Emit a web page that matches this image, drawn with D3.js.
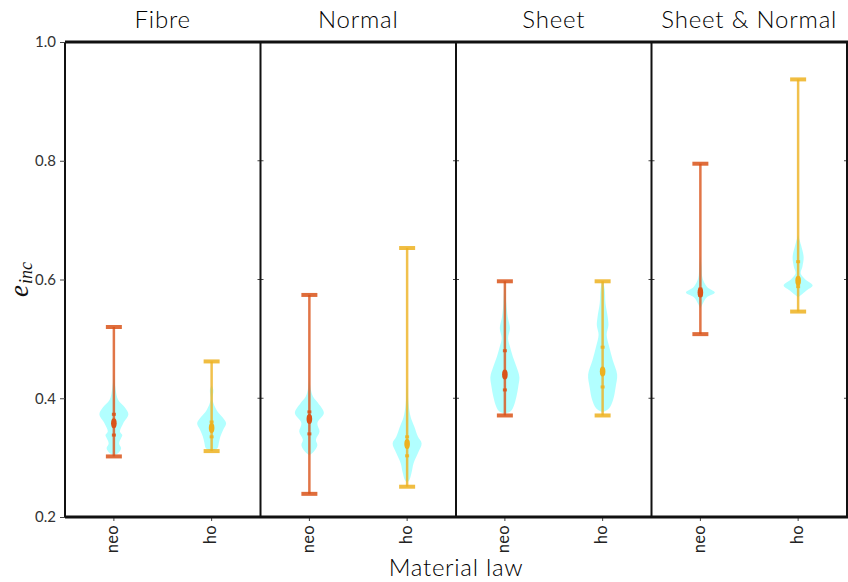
<!DOCTYPE html>
<html><head><meta charset="utf-8">
<script src="https://cdn.jsdelivr.net/npm/d3@7"></script>
<style>body{margin:0;background:#fff;} svg{display:block;font-family:Lato,"Noto Sans",sans-serif;}</style>
</head><body>
<svg id="c" width="848" height="582"></svg>
<script>
const panels = ["Fibre", "Normal", "Sheet", "Sheet & Normal"];
const laws = ["neo", "ho"];
const yTicks = [0.2, 0.4, 0.6, 0.8, 1.0];
const lawColors = ["#D95319", "#EDB120"];
// per panel: [neo, ho]
const whiskerLow  = [[0.302, 0.311], [0.239, 0.251], [0.371, 0.371], [0.508, 0.546]];
const whiskerHigh = [[0.520, 0.462], [0.574, 0.653], [0.597, 0.597], [0.795, 0.937]];
const medians     = [[0.358, 0.350], [0.365, 0.323], [0.440, 0.445], [0.578, 0.598]];
const q1          = [[0.338, 0.335], [0.340, 0.303], [0.414, 0.419], [0.573, 0.588]];
const q3          = [[0.373, 0.360], [0.377, 0.335], [0.480, 0.486], [0.584, 0.630]];
// violin density profiles [value, relative density]
const fibreNeo = [[0.304,0],[0.308,0.3],[0.316,0.5],[0.324,0.36],[0.333,0.5],[0.338,0.58],[0.344,0.42],[0.358,0.65],[0.373,1.0],[0.385,0.75],[0.397,0.3],[0.419,0.1],[0.443,0]];
const fibreHo = [[0.311,0],[0.316,0.4],[0.325,0.5],[0.335,0.6],[0.347,0.8],[0.358,1.0],[0.368,0.75],[0.38,0.35],[0.397,0.07],[0.414,0.12],[0.422,0]];
const normalNeo = [[0.304,0],[0.31,0.3],[0.321,0.55],[0.33,0.45],[0.344,0.7],[0.358,0.55],[0.375,1.0],[0.392,0.6],[0.403,0.25],[0.419,0.07],[0.439,0]];
const normalHo = [[0.258,0],[0.262,0.15],[0.274,0.3],[0.291,0.45],[0.308,0.75],[0.324,1.0],[0.335,0.75],[0.352,0.5],[0.368,0.25],[0.39,0.1],[0.415,0.04],[0.436,0]];
const sheetNeo = [[0.374,0],[0.378,0.4],[0.386,0.6],[0.403,0.8],[0.419,0.92],[0.436,1.0],[0.453,0.8],[0.47,0.55],[0.487,0.35],[0.501,0.22],[0.518,0.35],[0.537,0.2],[0.56,0.1],[0.597,0.03]];
const sheetHo = [[0.376,0],[0.383,0.45],[0.397,0.72],[0.419,0.9],[0.44,1.0],[0.464,0.7],[0.487,0.45],[0.507,0.28],[0.523,0.4],[0.537,0.35],[0.56,0.2],[0.582,0.15],[0.596,0.05]];
const snNeo = [[0.551,0],[0.56,0.18],[0.57,0.45],[0.578,1.0],[0.588,0.45],[0.602,0.15],[0.622,0.08],[0.641,0]];
const snHo = [[0.57,0],[0.574,0.2],[0.582,0.6],[0.59,1.0],[0.6,0.5],[0.61,0.18],[0.622,0.3],[0.638,0.38],[0.658,0.2],[0.675,0]];
const violins = [[fibreNeo, fibreHo], [normalNeo, normalHo], [sheetNeo, sheetHo], [snNeo, snHo]];

const svg = d3.select("#c");
const L = 65, R = 847, T = 42, B = 517;
const y = d3.scaleLinear().domain([0.2, 1.0]).range([B, T]);
const xOuter = d3.scaleBand().domain(panels).range([L, R]).padding(0);
const xInner = d3.scalePoint().domain(laws).range([0, xOuter.bandwidth()]).padding(0.5);
const w = d3.scaleLinear().domain([0, 1]).range([0, 14.5]);

// panel small y ticks at panel edges
panels.forEach((p, i) => {
  const x0 = xOuter(p), x1 = x0 + xOuter.bandwidth();
  yTicks.forEach(t => {
    if (i > 0) svg.append("line").attr("x1", x0).attr("x2", x0 + 3).attr("y1", y(t)).attr("y2", y(t)).attr("stroke", "#444").attr("stroke-width", 1);
    svg.append("line").attr("x1", x1 - 3).attr("x2", x1).attr("y1", y(t)).attr("y2", y(t)).attr("stroke", "#444").attr("stroke-width", 1);
  });
});

const area = d3.area()
  .y(d => y(d[0]))
  .curve(d3.curveCatmullRom);

panels.forEach((p, i) => {
  const g = svg.append("g").attr("transform", `translate(${xOuter(p)},0)`);
  laws.forEach((law, j) => {
    const cx = xInner(law);
    const col = lawColors[j];
    g.append("path").datum(violins[i][j])
      .attr("d", area.x0(d => cx - w(d[1])).x1(d => cx + w(d[1])))
      .attr("fill", "#00ffff").attr("fill-opacity", 0.3).attr("stroke", "none");
    g.append("line").attr("x1", cx).attr("x2", cx)
      .attr("y1", y(whiskerLow[i][j])).attr("y2", y(whiskerHigh[i][j]))
      .attr("stroke", col).attr("stroke-width", 2.5).attr("stroke-opacity", 0.8);
    [whiskerLow[i][j], whiskerHigh[i][j]].forEach(v => {
      g.append("line").attr("x1", cx - 8).attr("x2", cx + 8).attr("y1", y(v)).attr("y2", y(v))
        .attr("stroke", col).attr("stroke-width", 4).attr("stroke-opacity", 0.85);
    });
    [q1[i][j], q3[i][j]].forEach(v => {
      g.append("rect").attr("x", cx - 2).attr("y", y(v) - 1.5).attr("width", 4).attr("height", 3)
        .attr("fill", col).attr("fill-opacity", 0.85);
    });
    g.append("ellipse").attr("cx", cx).attr("cy", y(medians[i][j])).attr("rx", 2.8).attr("ry", 5)
      .attr("fill", col);
  });
  // title
  svg.append("text").attr("x", xOuter(p) + xOuter.bandwidth() / 2).attr("y", 28)
    .attr("text-anchor", "middle").attr("font-size", 24).attr("font-weight", 300).attr("letter-spacing", 0.8).attr("fill", "#000").text(p);
  // x tick labels
  laws.forEach(law => {
    const cx = xOuter(p) + xInner(law);
    svg.append("line").attr("x1", cx).attr("x2", cx).attr("y1", B).attr("y2", B + 4).attr("stroke", "#444");
    svg.append("text").attr("transform", `translate(${cx + 4.5},${B + 8}) rotate(-90)`)
      .attr("text-anchor", "end").attr("font-size", 16.5).attr("letter-spacing", 0.3).attr("fill", "#222").text(law);
  });
});

// frame
svg.append("line").attr("x1", L).attr("x2", R + 1).attr("y1", T).attr("y2", T).attr("stroke", "#111").attr("stroke-width", 3);
svg.append("line").attr("x1", L).attr("x2", R + 1).attr("y1", B).attr("y2", B).attr("stroke", "#111").attr("stroke-width", 3);
panels.forEach(p => {
  const x0 = xOuter(p);
  svg.append("line").attr("x1", x0).attr("x2", x0).attr("y1", T).attr("y2", B).attr("stroke", "#111").attr("stroke-width", 2);
});
svg.append("line").attr("x1", R).attr("x2", R).attr("y1", T).attr("y2", B).attr("stroke", "#111").attr("stroke-width", 2);

// y axis
const yAxis = d3.axisLeft(y).tickValues(yTicks).tickFormat(d3.format(".1f")).tickSize(5).tickPadding(4);
const ga = svg.append("g").attr("transform", `translate(${L},0)`).call(yAxis);
ga.select(".domain").remove();
ga.selectAll("text").attr("font-size", 15).attr("fill", "#333").attr("font-family", "Lato, sans-serif");
ga.selectAll("line").attr("stroke", "#444");

// y label
const yl = svg.append("g").attr("transform", `translate(28,297) rotate(-90)`)
  .attr("font-family", "Liberation Serif, serif").attr("font-style", "italic").attr("fill", "#111");
yl.append("text").attr("x", 0).attr("y", 0).attr("font-size", 27).text("e");
yl.append("text").attr("x", 13).attr("y", 4).attr("font-size", 18).text("inc");

// x label
svg.append("text").attr("x", (L + R) / 2).attr("y", 576).attr("text-anchor", "middle")
  .attr("font-size", 24).attr("font-weight", 300).attr("letter-spacing", 0.7).attr("fill", "#000").text("Material law");
</script>
</body></html>
